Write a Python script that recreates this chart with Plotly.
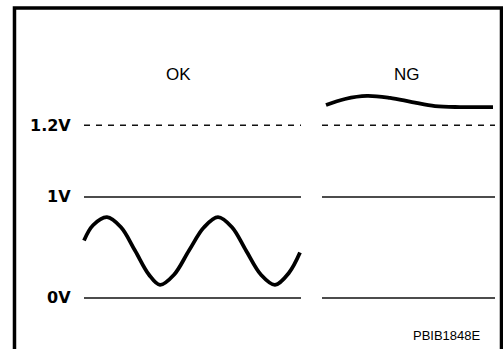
import plotly.graph_objects as go

# schematic voltage levels (positions as drawn, not to scale)
level_names = ["0V", "1V", "1.2V"]
level_pos = [0.0, 1.0, 1.71]
level_dash = ["solid", "solid", "dash"]

# two panels: OK signal and NG signal
panel_names = ["OK", "NG"]
panel_x0 = [84, 322]
panel_x1 = [301, 495]

# OK waveform (oscillates between ~0.13 and ~0.8 V)
ok_t = [84, 93, 107, 121, 135, 149, 160, 174, 189, 204, 218, 232, 246, 261, 275, 289, 300]
ok_v = [0.57, 0.72, 0.80, 0.70, 0.47, 0.23, 0.13, 0.23, 0.47, 0.70, 0.80, 0.70, 0.47, 0.23, 0.13, 0.25, 0.45]

# NG waveform (stuck above 1.2 V)
ng_t = [326, 345, 367, 390, 412, 435, 460, 493]
ng_v = [1.91, 1.97, 2.00, 1.98, 1.94, 1.90, 1.89, 1.89]

fig = go.Figure()

# level lines in both panels
for name, pos, dash in zip(level_names, level_pos, level_dash):
    for x0, x1 in zip(panel_x0, panel_x1):
        fig.add_trace(go.Scatter(
            x=[x0, x1], y=[pos, pos], mode="lines",
            line=dict(color="#111111", width=1.3, dash="6px,6px" if dash == "dash" else "solid"),
            hoverinfo="skip", showlegend=False,
        ))
    fig.add_annotation(
        x=73, y=pos, xref="x", yref="y", text=name, showarrow=False,
        xanchor="right", yanchor="middle",
        font=dict(family="DejaVu Sans", size=16, color="black", weight="bold"),
    )

fig.add_trace(go.Scatter(
    x=ok_t, y=ok_v, mode="lines", line=dict(color="black", width=3.8, shape="spline"),
    hoverinfo="skip", showlegend=False,
))
fig.add_trace(go.Scatter(
    x=ng_t, y=ng_v, mode="lines", line=dict(color="black", width=3.8, shape="spline"),
    hoverinfo="skip", showlegend=False,
))

# panel titles
title_x = [178, 407]
for name, tx in zip(panel_names, title_x):
    fig.add_annotation(
        x=tx, y=2.21, xref="x", yref="y", text=name, showarrow=False,
        font=dict(family="Liberation Sans", size=17, color="black"),
    )

fig.add_annotation(
    x=447, y=-0.37, xref="x", yref="y", text="PBIB1848E", showarrow=False,
    font=dict(family="Liberation Sans", size=13, color="black"),
)

# frame around the figure (open at the bottom)
fig.add_shape(
    type="path", xref="paper", yref="paper",
    path="M 0.0288,-0.01 L 0.0288,0.9771 L 0.9970,0.9771 L 0.9970,-0.01",
    line=dict(color="black", width=3.5),
)

fig.update_xaxes(range=[0, 503], visible=False, showgrid=False, zeroline=False)
fig.update_yaxes(range=[-0.505, 2.950], visible=False, showgrid=False, zeroline=False)
fig.update_layout(
    width=503, height=349, margin=dict(l=0, r=0, t=0, b=0),
    plot_bgcolor="white", paper_bgcolor="white",
)

fig.write_html(
    "out.html",
    config={"displayModeBar": False},
    post_script="document.body.style.margin='0';",
)
